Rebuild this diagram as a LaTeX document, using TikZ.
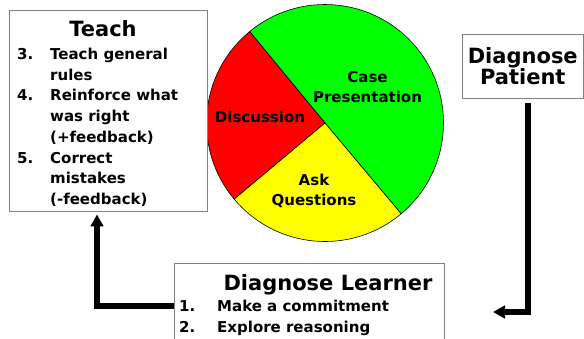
\documentclass[tikz,border=0pt]{standalone}
\usepackage{fontspec}
\setmainfont{DejaVu Sans}
\usepackage{xcolor}
\usepackage{tikz}
\usetikzlibrary{positioning,calc,arrows.meta}

\definecolor{pieGreen}{RGB}{0,255,0}
\definecolor{pieRed}{RGB}{255,0,0}
\definecolor{pieYellow}{RGB}{255,255,0}
\definecolor{boxGray}{RGB}{128,128,128}

\tikzset{
    box/.style={draw=boxGray, line width=0.8pt, fill=white, inner sep=0pt},
    title/.style={font=\fontsize{21}{21.5}\selectfont\bfseries, inner sep=0pt},
    item/.style={font=\fontsize{15}{20}\selectfont\bfseries, inner sep=0pt, anchor=base west},
    slice/.style={draw=black, line width=0.6pt},
    flow/.style={line width=5.5pt, -{Triangle[length=12pt,width=12.5pt]}}
}

\begin{document}
\begin{tikzpicture}[x=1pt, y=-1pt]
    \useasboundingbox (0,0) rectangle (584,338);

    % Pie of the teaching session
    \begin{scope}[shift={(325,123)}]
        \draw[slice, fill=pieGreen] (0,0) -- (-50:118.5pt) arc[start angle=-50, end angle=129.5, radius=118.5pt] -- cycle;
        \draw[slice, fill=pieRed] (0,0) -- (129.5:118.5pt) arc[start angle=129.5, end angle=220, radius=118.5pt] -- cycle;
        \draw[slice, fill=pieYellow] (0,0) -- (220:118.5pt) arc[start angle=220, end angle=310, radius=118.5pt] -- cycle;
    \end{scope}
    \node[item, anchor=center, align=center] (case) at (367.5,87) {Case\\Presentation};
    \node[item, anchor=base] (discussion) at (260,122.5) {Discussion};
    \node[item, anchor=center, align=center] (ask) at (314,191) {Ask\\Questions};

    % Teach
    \node[box, minimum width=198pt, minimum height=201pt] (teach) at (108,110.5) {};
    \node[title, anchor=base] (teachtitle) at (103,36) {Teach};
    \foreach \num/\txt [count=\i] in {3./Teach general, /rules, 4./Reinforce what, /was right, /(+feedback), 5./Correct, /mistakes, /(-feedback)} {
        \node[item] (tn\i) at (17,{59.5+20.7*(\i-1)}) {\num};
        \node[item] (tt\i) at (50,{59.5+20.7*(\i-1)}) {\txt};
    }

    % Diagnose Patient
    \node[box, title, align=center, minimum width=121.5pt, minimum height=64pt] (patient) at (522.75,66) {Diagnose\\Patient};

    % Diagnose Learner
    \node[box, minimum width=270pt, minimum height=97pt] (learner) at (309,311.5) {};
    \node[title, anchor=base] (learnertitle) at (328,290) {Diagnose Learner};
    \node[item] (ln1) at (179,311) {1.};
    \node[item] (lt1) at (217,311) {Make a commitment};
    \node[item] (ln2) at (179,332.5) {2.};
    \node[item] (lt2) at (217,332.5) {Explore reasoning};

    % Connectors
    \coordinate (pend) at (493,312);
    \draw[flow] ([xshift=5.25pt,yshift=-5pt]patient.south) |- (pend);
    \draw[flow, shorten >=3pt] ([yshift=5.5pt]learner.west) -| ([xshift=-11pt]teach.south);
\end{tikzpicture}
\end{document}
